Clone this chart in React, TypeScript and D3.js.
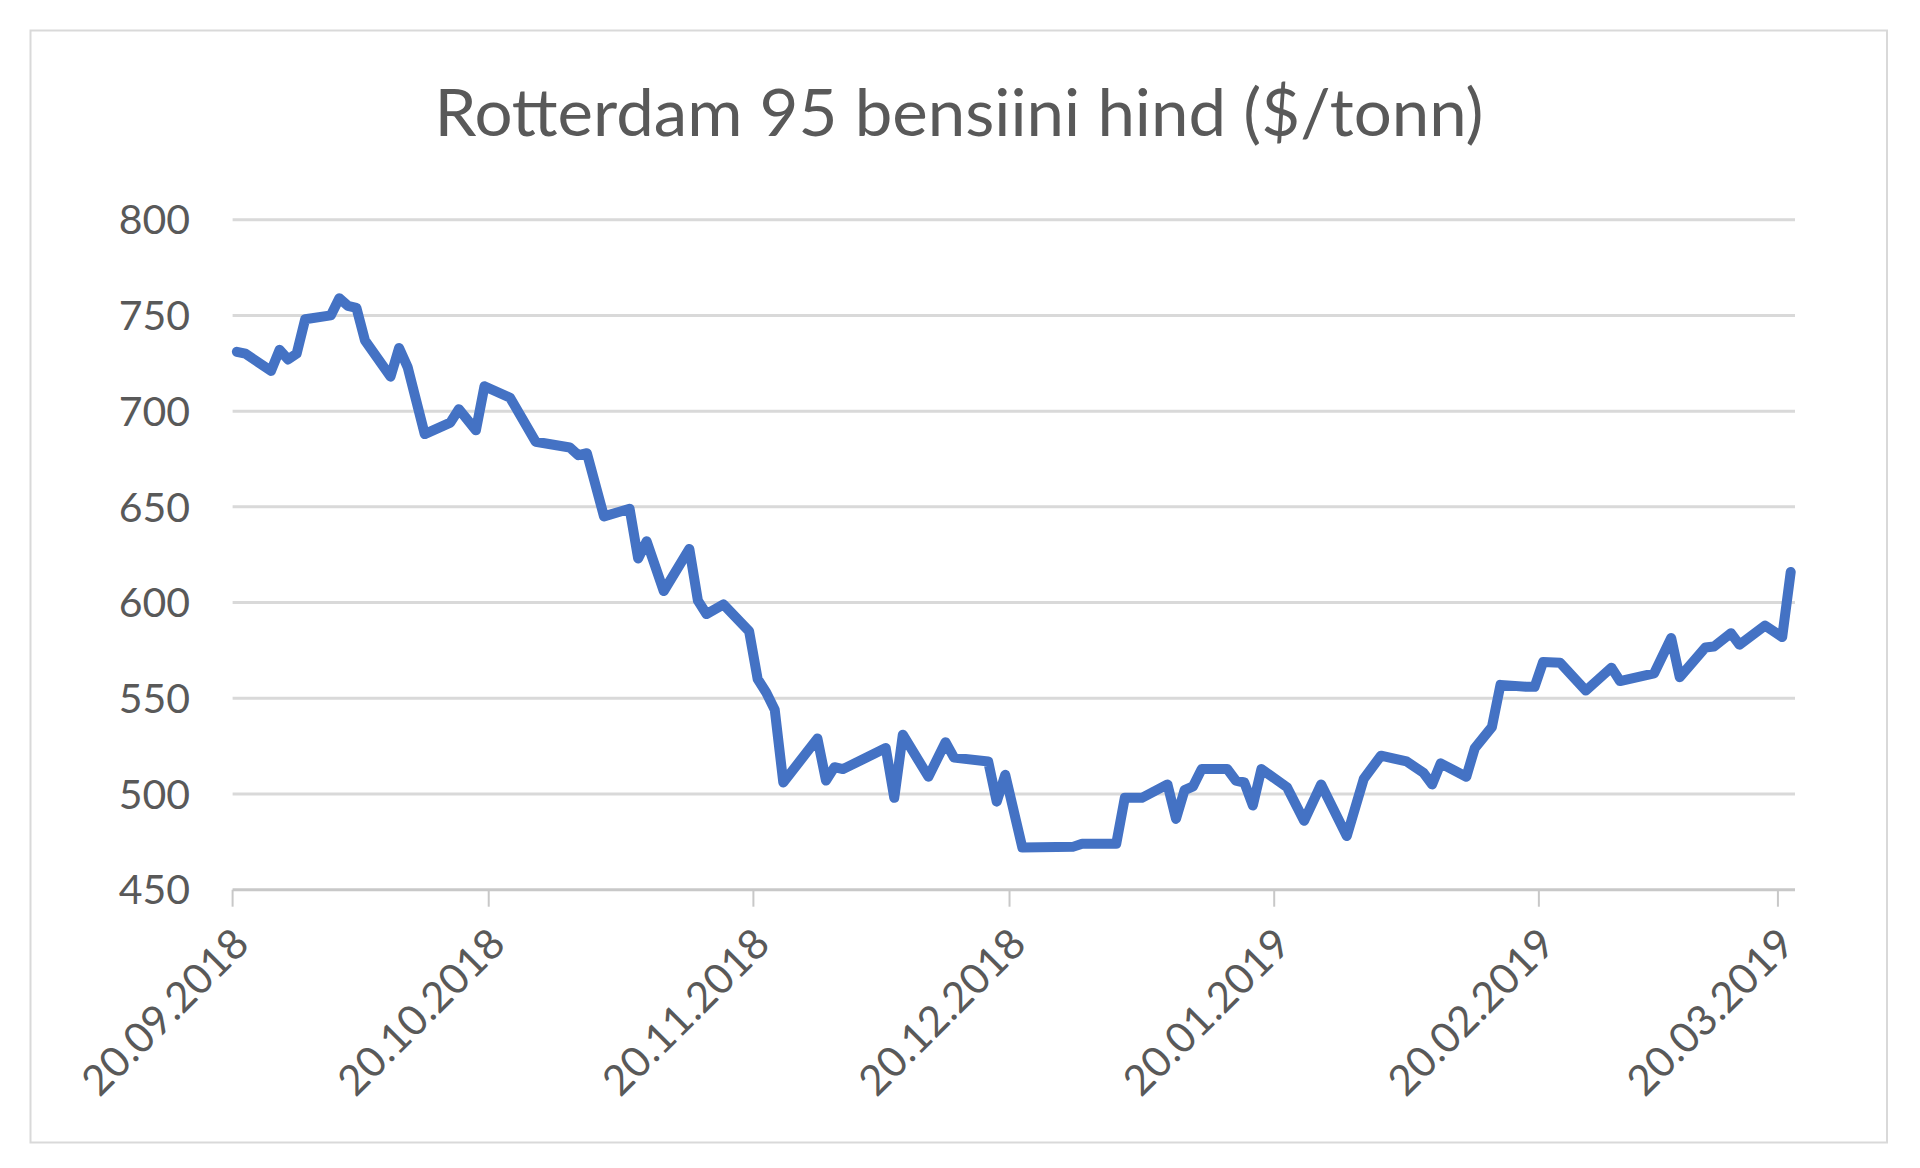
import React from 'react';
import * as d3 from 'd3';

const title = 'Rotterdam 95 bensiini hind ($/tonn)';

const dates = [
  '2018-09-20', '2018-09-21', '2018-09-24', '2018-09-25', '2018-09-26', '2018-09-27', '2018-09-28',
  '2018-10-01', '2018-10-02', '2018-10-03', '2018-10-04', '2018-10-05', '2018-10-08', '2018-10-09',
  '2018-10-10', '2018-10-12', '2018-10-15', '2018-10-16', '2018-10-18', '2018-10-19', '2018-10-22',
  '2018-10-25', '2018-10-29', '2018-10-30', '2018-10-31', '2018-11-02', '2018-11-05', '2018-11-06',
  '2018-11-07', '2018-11-09', '2018-11-12', '2018-11-13', '2018-11-14', '2018-11-16', '2018-11-19',
  '2018-11-20', '2018-11-21', '2018-11-22', '2018-11-23', '2018-11-27', '2018-11-28', '2018-11-29',
  '2018-11-30', '2018-12-05', '2018-12-06', '2018-12-07', '2018-12-10', '2018-12-12', '2018-12-13',
  '2018-12-17', '2018-12-18', '2018-12-19', '2018-12-21', '2018-12-27', '2018-12-28', '2019-01-01',
  '2019-01-02', '2019-01-04', '2019-01-07', '2019-01-08', '2019-01-09', '2019-01-10', '2019-01-11',
  '2019-01-14', '2019-01-15', '2019-01-16', '2019-01-17', '2019-01-18', '2019-01-21', '2019-01-23',
  '2019-01-25', '2019-01-28', '2019-01-30', '2019-02-01', '2019-02-04', '2019-02-06', '2019-02-07',
  '2019-02-08', '2019-02-11', '2019-02-12', '2019-02-14', '2019-02-15', '2019-02-18', '2019-02-19',
  '2019-02-20', '2019-02-22', '2019-02-25', '2019-02-28', '2019-03-01', '2019-03-05', '2019-03-07',
  '2019-03-08', '2019-03-11', '2019-03-12', '2019-03-14', '2019-03-15', '2019-03-18', '2019-03-20',
  '2019-03-21',
];

const prices = [
  731, 730, 721, 732, 727, 730, 748,
  750, 759, 755, 754, 737, 718, 733,
  723, 688, 694, 701, 690, 713, 707,
  684, 681, 677, 678, 645, 649, 623,
  632, 606, 628, 601, 594, 599, 585,
  560, 553, 544, 506, 529, 507, 514,
  513, 524, 498, 531, 509, 527, 519,
  517, 496, 510, 472, 472.5, 474, 474,
  498, 498, 505, 487, 502, 504, 513,
  513, 507, 506, 494, 513, 503.5, 486,
  505, 478, 508, 520, 517, 511, 505,
  516, 509, 524, 535, 557, 556, 556,
  569, 568.5, 554, 566, 559, 563, 581.5,
  561, 576.5, 577, 584, 578, 588, 582,
  616,
];

const yTicks = [450, 500, 550, 600, 650, 700, 750, 800];
const xTickDates = ['2018-09-20', '2018-10-20', '2018-11-20', '2018-12-20', '2019-01-20', '2019-02-20', '2019-03-20'];
const xDomain = ['2018-09-20', '2019-03-22'];

const FONT = 'Lato, "Open Sans", sans-serif';
const TEXT = '#595959';

export default function App() {
  const W = 1920;
  const H = 1168;
  const parse = d3.utcParse('%Y-%m-%d');
  const fmt = d3.utcFormat('%d.%m.%Y');

  const left = 232.6;
  const right = 1795;
  const top = 219.7;
  const bottom = 889.7;

  const x = d3.scaleUtc().domain(xDomain.map((s) => parse(s) as Date)).range([left, right]);
  const y = d3.scaleLinear().domain([450, 800]).range([bottom, top]);

  // each date occupies a one-day slot; points sit in the middle of their slot
  const xCenter = (d: Date) => x(d3.utcHour.offset(d, 12));

  const pts: [Date, number][] = dates.map((d, i) => [parse(d) as Date, prices[i]]);
  const line = d3
    .line<[Date, number]>()
    .x((d) => xCenter(d[0]))
    .y((d) => y(d[1]));

  return (
    <svg
      width={W}
      height={H}
      viewBox={`0 0 ${W} ${H}`}
      style={{ position: 'absolute', left: 0, top: 0, display: 'block', background: '#ffffff' }}
    >
      <rect x={0} y={0} width={W} height={H} fill="#ffffff" />
      <rect x={30.5} y={30.5} width={1856.5} height={1112} fill="#ffffff" stroke="#d9d9d9" strokeWidth={2} />

      <text
        x={959}
        y={136}
        textAnchor="middle"
        fontFamily={FONT}
        fontSize={66}
        fill={TEXT}
        textLength={1049}
        lengthAdjust="spacingAndGlyphs"
      >
        {title}
      </text>

      {yTicks.map((t) => (
        <g key={t}>
          <line
            x1={left}
            x2={right}
            y1={y(t)}
            y2={y(t)}
            stroke={t === 450 ? '#c8c8c8' : '#d9d9d9'}
            strokeWidth={3}
          />
          <text
            x={190}
            y={y(t)}
            dy="0.36em"
            textAnchor="end"
            fontFamily={FONT}
            fontSize={41}
            fill={TEXT}
          >
            {t}
          </text>
        </g>
      ))}

      {xTickDates.map((s) => {
        const d = parse(s) as Date;
        const xx = x(d);
        return (
          <g key={s}>
            <line x1={xx} x2={xx} y1={bottom} y2={bottom + 17} stroke="#c8c8c8" strokeWidth={2} />
            <text
              transform={`translate(${xx + 8},${bottom + 46}) rotate(-45)`}
              dy="0.36em"
              textAnchor="end"
              fontFamily={FONT}
              fontSize={42}
              fill={TEXT}
            >
              {fmt(d)}
            </text>
          </g>
        );
      })}

      <path
        d={line(pts) || ''}
        fill="none"
        stroke="#4472C4"
        strokeWidth={10}
        strokeLinejoin="round"
        strokeLinecap="round"
      />
    </svg>
  );
}
